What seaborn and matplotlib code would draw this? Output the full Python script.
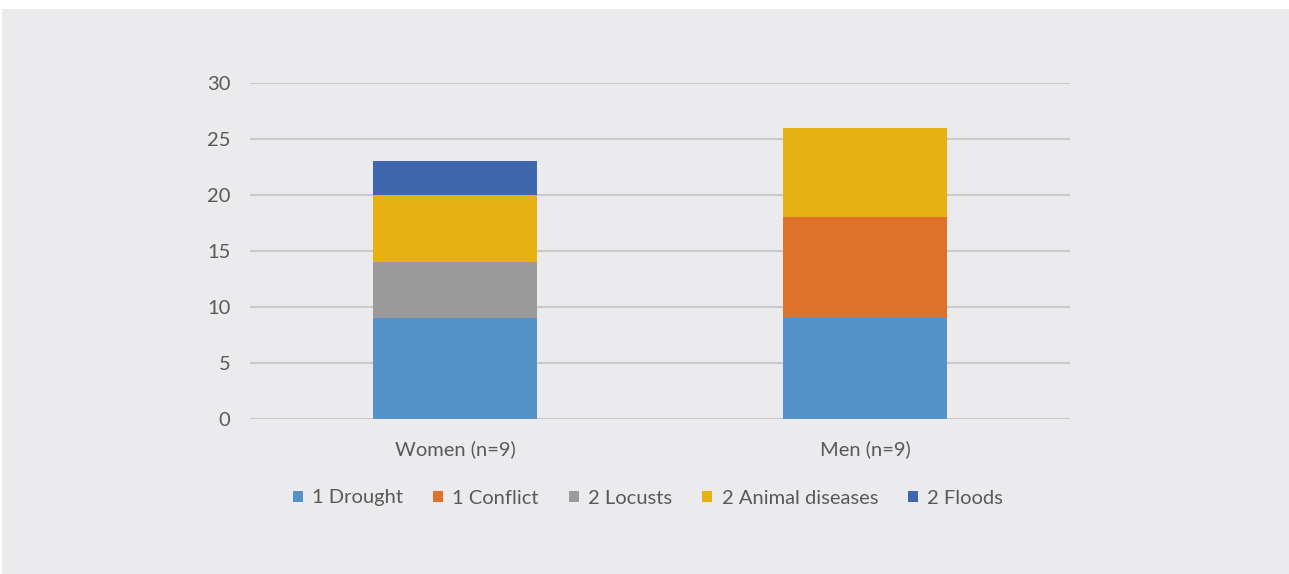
import matplotlib
matplotlib.use("Agg")
import matplotlib.pyplot as plt
from matplotlib.patches import Rectangle
import numpy as np
import pandas as pd
import seaborn as sns

# Data: number of mentions per hazard, by respondent group
groups = ["Women (n=9)", "Men (n=9)"]
hazards = ["1 Drought", "1 Conflict", "2 Locusts", "2 Animal diseases", "2 Floods"]
drought = [9, 9]
conflict = [0, 9]
locusts = [5, 0]
animal_diseases = [6, 8]
floods = [3, 0]
y_ticks = [0, 5, 10, 15, 20, 25, 30]

colors = ["#5592c8", "#df722b", "#9b9b9b", "#e8b112", "#3f67ad"]
bg = "#ebebed"
text_color = "#595959"

sns.set_style("white")
plt.rcParams["font.family"] = ["Lato", "DejaVu Sans"]

series = [drought, conflict, locusts, animal_diseases, floods]
cumulative = np.cumsum(np.array(series), axis=0)

fig = plt.figure(figsize=(12.89, 5.74), dpi=100, facecolor="white")
fig.patches.append(Rectangle((2 / 1289, 0), 1 - 2 / 1289, 565 / 574,
                             transform=fig.transFigure, facecolor=bg,
                             edgecolor="none", zorder=-10))
ax = fig.add_axes([250 / 1289, 155 / 574, 820 / 1289, 336 / 574])
ax.set_facecolor(bg)

# Stacked bars: draw running totals from the top segment down
for i in range(len(hazards) - 1, -1, -1):
    df = pd.DataFrame({"group": groups, "value": cumulative[i]})
    sns.barplot(data=df, x="group", y="value", order=groups, color=colors[i],
                width=0.40, saturation=1, ax=ax, linewidth=0, zorder=3)

ax.set_xlim(-0.5, 1.5)
ax.set_ylim(0, 30)
ax.set_yticks(y_ticks)
ax.set_yticklabels([str(t) for t in y_ticks])
ax.yaxis.grid(True, color="#cacaca", linewidth=1.5, zorder=0)
ax.set_axisbelow(True)
for s in ax.spines.values():
    s.set_visible(False)
ax.set_xlabel("")
ax.set_ylabel("")
ax.tick_params(axis="y", length=0, pad=14, labelsize=14.5, labelcolor=text_color)
ax.tick_params(axis="x", length=0, pad=15, labelsize=14.5, labelcolor=text_color)

handles = [Rectangle((0, 0), 1, 1, facecolor=c, edgecolor="none") for c in colors]
fig.legend(handles, hazards, loc="center", bbox_to_anchor=(648 / 1289, 76 / 574),
           ncol=5, frameon=False, fontsize=14.5, labelcolor=text_color,
           handlelength=0.5, handleheight=0.5, handletextpad=0.45,
           columnspacing=1.5)

fig.savefig("out.png", dpi=100, facecolor="white")
